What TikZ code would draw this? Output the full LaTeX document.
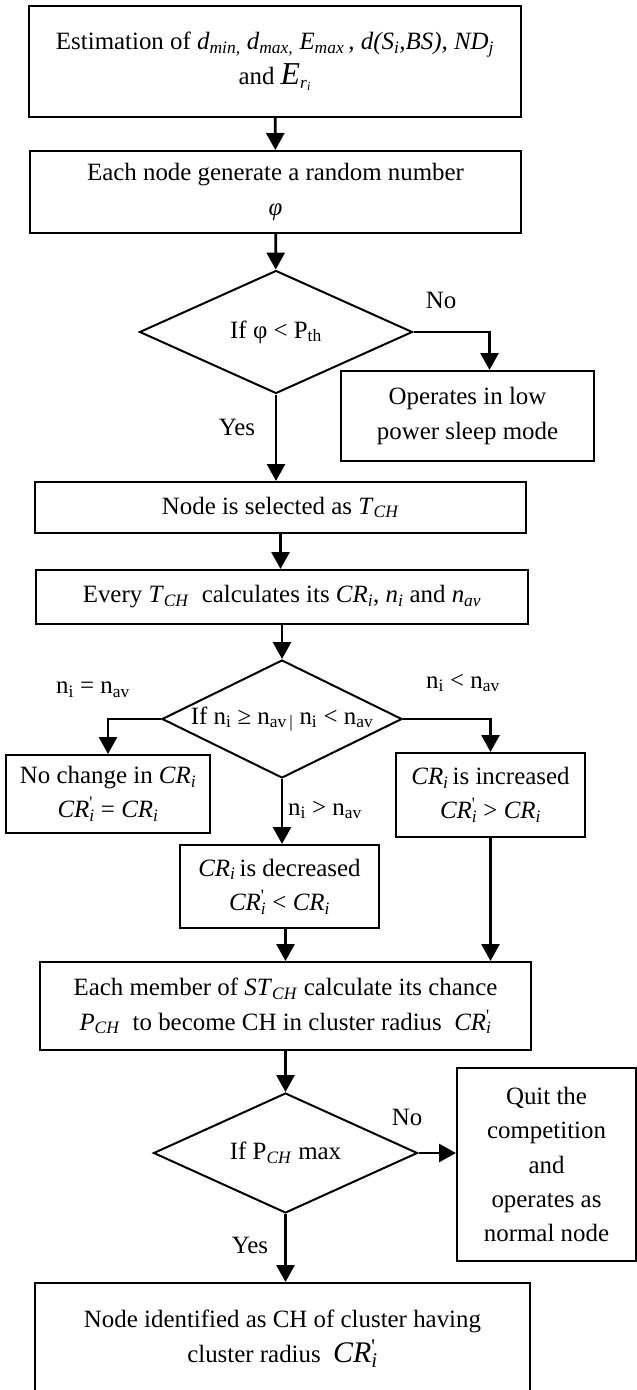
\documentclass[tikz,border=0pt]{standalone}
\usepackage{fontspec}
\setmainfont{Liberation Serif}
\usetikzlibrary{shapes.geometric, arrows.meta, positioning}

\newcommand{\CRi}{\textit{CR}\textsubscript{\textit{i}}}
\newcommand{\CRp}{\textit{CR}\makebox[0pt][l]{\textsuperscript{\textquotesingle}}\textsubscript{\textit{i}}}
\newcommand{\TCH}{\textit{T}\textsubscript{\textit{CH}}}

\begin{document}
\begin{tikzpicture}[
    x=1bp, y=-1bp,
    font=\fontsize{25}{34.5}\selectfont,
    box/.style={draw, rectangle, line width=2bp, align=center, inner sep=2bp},
    decision/.style={draw, diamond, line width=2bp, aspect=2, inner sep=0pt, align=center},
    lbl/.style={inner sep=0pt},
    arrow/.style={-{Triangle[width=18bp,length=17bp]}, line width=2.8bp}
]
    \useasboundingbox (0,0) rectangle (637,1390);

    % Step 1: estimation and random number
    \node[box, minimum width=492bp, minimum height=111bp] (estim) at (275,61.5)
        {Estimation of \textit{d}\textsubscript{\textit{min,}} \textit{d}\textsubscript{\textit{max,}} \textit{E}\textsubscript{\textit{max}}\,, \textit{d(S}\textsubscript{\textit{i}}\textit{,BS), ND}\textsubscript{\textit{j}}\\
         and {\fontsize{32}{34.5}\selectfont\textit{E}}\textsubscript{\textit{r}\textsubscript{\textit{i}}}};
    \node[box, minimum width=491bp, minimum height=82bp] (gen) at (275.5,192)
        {Each node generate a random number\\ \textit{φ}};

    % Step 2: threshold test
    \node[decision, minimum width=273bp, minimum height=123bp] (thr) at (276,332)
        {If φ < P\textsubscript{th}};
    \node[box, minimum width=253bp, minimum height=90bp] (sleep) at (467.5,416)
        {Operates in low\\power sleep mode};
    \node[lbl] (thr_no) at (441,300) {No};
    \node[lbl] (thr_yes) at (237,427) {Yes};

    % Step 3: tentative CH
    \node[box, minimum width=491bp, minimum height=51bp] (sel) at (280.5,507.5)
        {Node is selected as \TCH};
    \node[box, minimum width=492bp, minimum height=54bp] (every) at (282,597)
        {Every \TCH\ \ calculates its \textit{CR}\textsubscript{\textit{i}}, \textit{n}\textsubscript{\textit{i}} and \textit{n}\textsubscript{\textit{av}}};

    % Step 4: adjust cluster radius
    \node[decision, minimum width=240bp, minimum height=118bp] (cmp) at (282,719)
        {If n\textsubscript{i} ≥ n\textsubscript{av\,|} n\textsubscript{i} < n\textsubscript{av}};
    \node[box, minimum width=204bp, minimum height=78bp] (same) at (108,794)
        {No change in \CRi\\ \CRp\ = \CRi};
    \node[box, minimum width=189bp, minimum height=84bp] (incr) at (490.5,795)
        {\CRi\,is increased\\ \CRp\ > \CRi};
    \node[box, minimum width=199bp, minimum height=83bp] (decr) at (279.5,886.5)
        {\CRi\,is decreased\\ \CRp\ < \CRi};
    \node[lbl] (cmp_eq) at (93,690) {n\textsubscript{i} = n\textsubscript{av}};
    \node[lbl] (cmp_lt) at (463,683) {n\textsubscript{i} < n\textsubscript{av}};
    \node[lbl] (cmp_gt) at (325,810) {n\textsubscript{i} > n\textsubscript{av}};

    % Step 5: chance to become CH
    \node[box, minimum width=491bp, minimum height=88bp] (each) at (285.5,1006)
        {Each member of \textit{ST}\textsubscript{\textit{CH}} calculate its chance\\
         \textit{P}\textsubscript{\textit{CH}}\ \ to become CH in cluster radius\ \ \CRp};
    \node[decision, minimum width=264bp, minimum height=120bp] (pmax) at (285.5,1153)
        {If P\textsubscript{\textit{CH}} max};
    \node[box, minimum width=179bp, minimum height=193bp] (quit) at (546.5,1164.5)
        {Quit the\\competition\\and\\operates as\\normal node};
    \node[lbl] (pmax_no) at (407,1117) {No};
    \node[lbl] (pmax_yes) at (250,1245) {Yes};

    % Step 6: final CH
    \node[box, minimum width=495bp, minimum height=112bp] (final) at (282.5,1339)
        {Node identified as CH of cluster having\\
         cluster radius\ \ {\fontsize{30}{34.5}\selectfont\CRp}};

    \draw[arrow] (estim) -- (gen);
    \draw[arrow] (gen) -- (thr);
    \draw[arrow] (thr.east) -| ([xshift=22bp]sleep.north);
    \draw[arrow] (thr.south) -- (thr.south |- sel.north);
    \draw[arrow] (sel.south) -- (sel.south |- every.north);
    \draw[arrow] (every) -- (cmp);
    \draw[arrow] (cmp.west) -| (same.north);
    \draw[arrow] (cmp.east) -| (incr.north);
    \draw[arrow] (cmp.south) -- (cmp.south |- decr.north);
    \draw[arrow] (decr.south -| each.north) -- (each.north);
    \draw[arrow] (incr.south) -- (incr.south |- each.north);
    \draw[arrow] (each) -- (pmax);
    \draw[arrow] (pmax.east) -- (pmax.east -| quit.west);
    \draw[arrow] (pmax.south) -- (pmax.south |- final.north);
\end{tikzpicture}
\end{document}
